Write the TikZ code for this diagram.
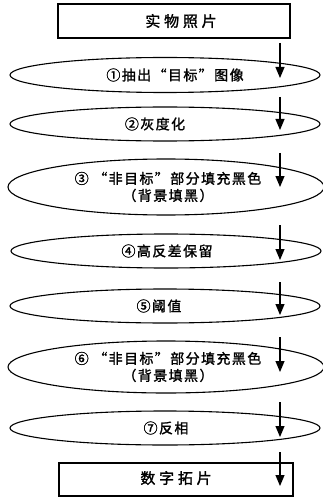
\documentclass[tikz,border=0pt]{standalone}
\usepackage{fontspec}
\usepackage{tikz}
\usetikzlibrary{arrows.meta,shapes.geometric}
\newfontfamily\cjk[LetterSpace=10,FakeBold=1.5]{Noto Sans CJK SC}
\newfontfamily\cjkwide[LetterSpace=25,FakeBold=1.5]{Noto Sans CJK SC}
\tikzset{
  stagebox/.style={draw, line width=1.1pt, inner sep=0pt},
  stagering/.style={ellipse, draw, line width=1.1pt, inner sep=0pt, minimum width=310pt},
  stagetext/.style={font=\cjk\fontsize{14}{17}\selectfont, align=center, inner sep=0pt},
  boxtext/.style={font=\cjkwide\fontsize{15}{17}\selectfont, inner sep=0pt},
  flowarrow/.style={line width=1.1pt, -{Triangle[length=11pt,width=9pt]}}
}
\begin{document}
\begin{tikzpicture}[x=1pt, y=-1pt]
  \useasboundingbox (0,0) rectangle (322,497);
  % end boxes
  \node[stagebox, minimum width=232pt, minimum height=34pt] (photo) at (174,21) {};
  \node[boxtext] (tphoto) at (181,21) {实物照片};
  \node[stagebox, minimum width=234pt, minimum height=33pt] (rubbing) at (176,479.5) {};
  \node[boxtext] (trubbing) at (176,478) {数字拓片};
  % process steps
  \node[stagering, minimum height=35pt] (e1) at (165,75) {};
  \node[stagetext] (t1) at (175,75) {①抽出“目标”图像};
  \node[stagering, minimum height=34pt] (e2) at (165,124) {};
  \node[stagetext] (t2) at (155,124) {②灰度化};
  \node[stagering, minimum width=316pt, minimum height=56pt] (e3) at (166,187) {};
  \node[stagetext] (t3) at (168,187) {③ “非目标”部分填充黑色\\（背景填黑）};
  \node[stagering, minimum height=34pt] (e4) at (166,251) {};
  \node[stagetext] (t4) at (167,251) {④高反差保留};
  \node[stagering, minimum height=34pt] (e5) at (165,306) {};
  \node[stagetext] (t5) at (159,306) {⑤阈值};
  \node[stagering, minimum width=316pt, minimum height=52pt] (e6) at (166,367) {};
  \node[stagetext] (t6) at (168,367) {⑥ “非目标”部分填充黑色\\（背景填黑）};
  \node[stagering, minimum height=34pt] (e7) at (165,428) {};
  \node[stagetext] (t7) at (166,428) {⑦反相};
  % arrows down the right side
  \foreach \ys/\ye [count=\i] in {43/78, 97/130, 153/187, 225/260, 282/315, 337/372, 402/437, 452/486} {
    \coordinate (as\i) at (280,\ys);
    \coordinate (ae\i) at (280,\ye);
    \draw[flowarrow] (as\i) -- (ae\i);
  }
\end{tikzpicture}
\end{document}
